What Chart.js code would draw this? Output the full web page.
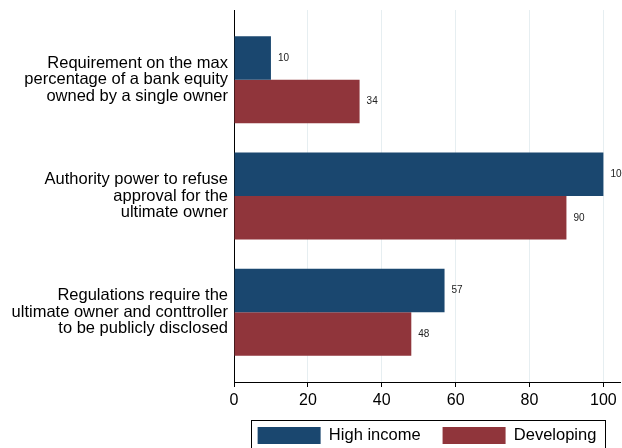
<!DOCTYPE html>
<html>
<head>
<meta charset="utf-8">
<script src="https://cdn.jsdelivr.net/npm/chart.js@4.4.1/dist/chart.umd.min.js"></script>
<style>
  html, body { margin: 0; padding: 0; background: #fff; }
  #wrap { width: 622px; height: 448px; }
</style>
</head>
<body>
<div id="wrap"><canvas id="c" width="622" height="448"></canvas></div>
<script>
// Categories (one entry per bar group, split into display lines)
const categories = [
  ['Requirement on the max', 'percentage of a bank equity', 'owned by a single owner'],
  ['Authority power to refuse', 'approval for the', 'ultimate owner'],
  ['Regulations require the', 'ultimate owner and conttroller', 'to be publicly disclosed']
];
const seriesNames = ['High income', 'Developing'];
const highIncome = [10, 100, 57];
const developing = [34, 90, 48];
const xTicks = [0, 20, 40, 60, 80, 100];

const FONT = "'Liberation Sans', Arial, sans-serif";

// value labels to the right of each bar
const valueLabels = {
  id: 'valueLabels',
  afterDatasetsDraw(chart) {
    const ctx = chart.ctx;
    ctx.save();
    ctx.font = '10px ' + FONT;
    ctx.fillStyle = '#222';
    ctx.textBaseline = 'middle';
    ctx.textAlign = 'left';
    chart.data.datasets.forEach((ds, di) => {
      chart.getDatasetMeta(di).data.forEach((bar, i) => {
        ctx.fillText(String(ds.data[i].x), bar.x + 7, bar.y);
      });
    });
    ctx.restore();
  }
};

// frame around the legend
const legendFrame = {
  id: 'legendFrame',
  afterDraw(chart) {
    const boxes = chart.legend && chart.legend.legendHitBoxes;
    if (!boxes || !boxes.length) return;
    const first = boxes[0], last = boxes[boxes.length - 1];
    const ctx = chart.ctx;
    ctx.save();
    ctx.strokeStyle = '#000';
    ctx.lineWidth = 1;
    const l = Math.round(first.left - 7) + 0.5;
    const t = Math.round(first.top - 7) + 0.5;
    const r = Math.round(last.left + last.width + 9) + 0.5;
    ctx.strokeRect(l, t, r - l, 60);
    ctx.restore();
  }
};

const toPoints = vals => vals.map((v, i) => ({ x: v, y: i }));

new Chart(document.getElementById('c'), {
  type: 'bar',
  data: {
    datasets: [
      { label: seriesNames[0], data: toPoints(highIncome), backgroundColor: '#1a476f', borderWidth: 0 },
      { label: seriesNames[1], data: toPoints(developing), backgroundColor: '#90353b', borderWidth: 0 }
    ]
  },
  options: {
    indexAxis: 'y',
    responsive: false,
    animation: false,
    devicePixelRatio: 1,
    categoryPercentage: 0.75,
    barPercentage: 1,
    layout: { padding: { top: 10, right: 2, left: 0, bottom: -6 } },
    scales: {
      y: {
        type: 'linear',
        reverse: true,
        offset: false,
        min: -0.6,
        max: 2.6,
        afterBuildTicks: s => { s.ticks = categories.map((_, i) => ({ value: i })); },
        afterFit: s => { s.width = 234; s.paddingTop = 0; s.paddingBottom = 0; },
        grid: { display: false, drawTicks: false },
        border: { display: true, color: '#000', width: 1 },
        ticks: {
          padding: 6,
          color: '#000',
          font: { family: FONT, size: 16.5, lineHeight: 1.01 },
          callback: v => categories[v]
        }
      },
      x: {
        type: 'linear',
        min: 0,
        max: 104.5,
        afterBuildTicks: s => { s.ticks = xTicks.map(v => ({ value: v })); },
        afterFit: s => { s.height = 23; s.paddingLeft = 0; s.paddingRight = 0; },
        grid: { color: '#e6eef1', lineWidth: 1, tickLength: 5, tickColor: '#000', drawTicks: true },
        border: { display: true, color: '#000', width: 1 },
        ticks: {
          padding: 4,
          color: '#000',
          maxRotation: 0,
          font: { family: FONT, size: 16 }
        }
      }
    },
    plugins: {
      tooltip: { enabled: false },
      legend: {
        position: 'bottom',
        fullSize: false,
        labels: {
          boxWidth: 63,
          boxHeight: 17,
          padding: 22,
          color: '#000',
          font: { family: FONT, size: 16.5 }
        }
      }
    }
  },
  plugins: [valueLabels, legendFrame]
});
</script>
</body>
</html>
